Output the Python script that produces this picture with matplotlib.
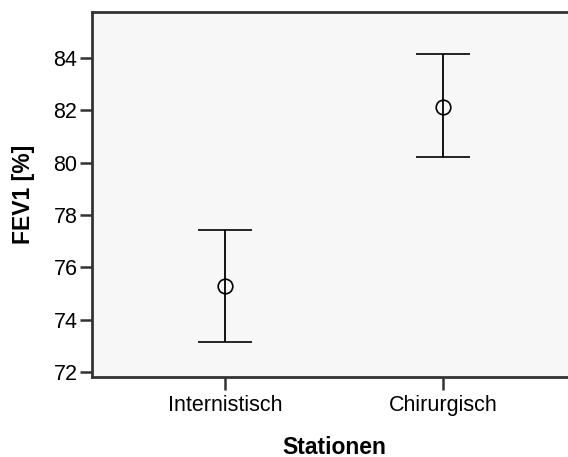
import matplotlib
matplotlib.use("Agg")
import matplotlib.pyplot as plt

plt.rcParams['font.family'] = ['Liberation Sans', 'DejaVu Sans']

# data
stations = ["Internistisch", "Chirurgisch"]
means = [75.28, 82.12]
lower = [73.14, 80.2]
upper = [77.42, 84.14]

W, H = 568, 457
fig = plt.figure(figsize=(W / 100, H / 100), dpi=100)
ax = fig.add_axes([92 / W, (H - 377) / H, (576 - 92) / W, (377 - 12) / H])
ax.set_facecolor("#f7f7f7")

x = [1, 2]
yerr = [[m - l for m, l in zip(means, lower)], [u - m for m, u in zip(means, upper)]]
ax.errorbar(x, means, yerr=yerr, fmt="o", color="black", mfc="none", mec="black",
            ms=10.5, mew=1.2, elinewidth=1.3, capsize=19.5, capthick=1.6)

ax.set_xlim(0.388, 2.612)
ax.set_ylim(71.81, 85.76)
ax.set_yticks([72, 74, 76, 78, 80, 82, 84])
ax.set_xticks(x)
ax.set_xticklabels(stations)

for s in ax.spines.values():
    s.set_color("#333333")
    s.set_linewidth(2)
ax.spines["right"].set_visible(False)
ax.tick_params(axis="both", labelsize=15.5, color="#333333", width=1.8, length=9)
ax.tick_params(axis="y", pad=1.5)
ax.tick_params(axis="x", pad=4)

ax.set_xlabel("Stationen", fontsize=16.5, fontweight="bold", labelpad=14)
ax.set_ylabel("FEV1 [%]", fontsize=16.5, fontweight="bold", labelpad=13)

fig.savefig("out.png", dpi=100)
